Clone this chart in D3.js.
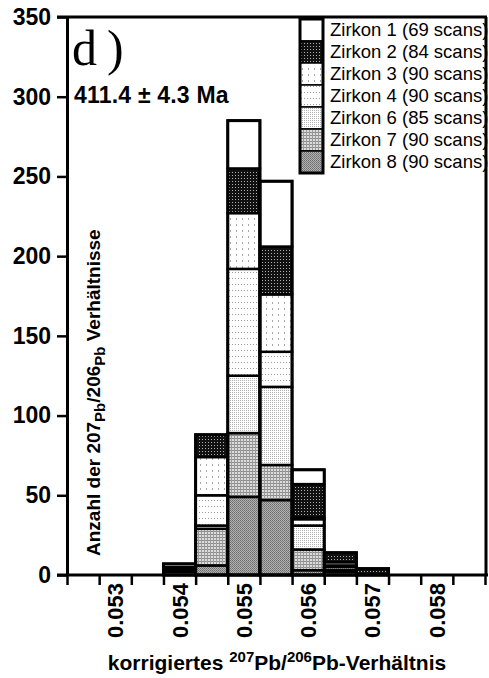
<!DOCTYPE html>
<html>
<head>
<meta charset="utf-8">
<script src="https://cdn.jsdelivr.net/npm/d3@7"></script>
<style>
  html, body { margin: 0; padding: 0; background: #fff; }
  svg { display: block; }
  text { font-family: "Liberation Sans", Arial, sans-serif; }
</style>
</head>
<body>
<svg id="chart" width="489" height="678"></svg>
<script>
// ---- data ----
const binCenters = [0.0540, 0.0545, 0.0550, 0.0555, 0.0560, 0.0565, 0.0570];
const binWidth = 0.0005;
const zirkon1 = [0, 0, 30, 41, 9, 0, 0];
const zirkon2 = [0, 14, 28, 30, 21, 6, 4];
const zirkon3 = [2, 24, 35, 36, 1, 2, 0];
const zirkon4 = [1, 19, 67, 22, 4, 1, 0];
const zirkon6 = [1, 2, 36, 49, 15, 2, 0];
const zirkon7 = [1, 23, 40, 22, 13, 1, 0];
const zirkon8 = [2, 6, 49, 47, 3, 2, 0];
const legendLabels = ["Zirkon 1 (69 scans)", "Zirkon 2 (84 scans)", "Zirkon 3 (90 scans)",
  "Zirkon 4 (90 scans)", "Zirkon 6 (85 scans)", "Zirkon 7 (90 scans)", "Zirkon 8 (90 scans)"];
const yTicks = [0, 50, 100, 150, 200, 250, 300, 350];
const xTickLabels = [0.053, 0.054, 0.055, 0.056, 0.057, 0.058];

const seriesKeys = ["z8", "z7", "z6", "z4", "z3", "z2", "z1"]; // bottom -> top
const seriesData = { z1: zirkon1, z2: zirkon2, z3: zirkon3, z4: zirkon4, z6: zirkon6, z7: zirkon7, z8: zirkon8 };
const legendKeys = ["z1", "z2", "z3", "z4", "z6", "z7", "z8"];

const table = binCenters.map((c, i) => {
  const row = { center: c };
  seriesKeys.forEach(k => row[k] = seriesData[k][i]);
  return row;
});

// ---- svg / scales ----
const svg = d3.select("#chart");
const pLeft = 67, pRight = 485, pTop = 17, pBottom = 575;
const x = d3.scaleLinear().domain([0.05225, 0.05875]).range([pLeft, pRight]);
const y = d3.scaleLinear().domain([0, 350]).range([pBottom, pTop]);

// ---- patterns ----
const defs = svg.append("defs");
function pat(id, w, h, bg, dots) {
  const p = defs.append("pattern").attr("id", id).attr("patternUnits", "userSpaceOnUse")
    .attr("width", w).attr("height", h);
  p.append("rect").attr("width", w).attr("height", h).attr("fill", bg);
  dots.forEach(d => p.append("rect").attr("x", d[0]).attr("y", d[1])
    .attr("width", d[2]).attr("height", d[3]).attr("fill", d[4]).attr("shape-rendering", "crispEdges"));
}
pat("p_z1", 4, 4, "#ffffff", []);
pat("p_z2", 3, 3, "#111111", [[1, 1, 1, 1, "#b0b0b0"]]);
pat("p_z3", 6, 6, "#ffffff", [[2, 2, 1, 2, "#a8a8a8"]]);
pat("p_z4", 3, 6, "#ffffff", [[1, 2, 1, 1, "#9a9a9a"]]);
pat("p_z6", 2, 2, "#ffffff", [[0, 0, 1, 1, "#b4b4b4"]]);
pat("p_z7", 3, 3, "#dcdcdc", [[0, 0, 3, 1, "#8c8c8c"], [0, 0, 1, 3, "#9a9a9a"]]);
pat("p_z8", 2, 2, "#b0b0b0", [[0, 0, 1, 1, "#6e6e6e"], [1, 1, 1, 1, "#7e7e7e"]]);

// ---- stacked bars ----
const stack = d3.stack().keys(seriesKeys)(table);
const barG = svg.append("g");
stack.forEach(layer => {
  barG.selectAll(null).data(layer.filter(d => d[1] - d[0] > 0)).enter().append("rect")
    .attr("x", d => x(d.data.center - binWidth / 2))
    .attr("width", d => x(d.data.center + binWidth / 2) - x(d.data.center - binWidth / 2))
    .attr("y", d => y(d[1]))
    .attr("height", d => y(d[0]) - y(d[1]))
    .attr("fill", "url(#p_" + layer.key + ")")
    .attr("stroke", "#000").attr("stroke-width", 2.5);
});
// outline of each bar
const totalOf = d => seriesKeys.reduce((s, k) => s + d[k], 0);
barG.selectAll(null).data(table).enter().append("rect")
  .attr("x", d => x(d.center - binWidth / 2))
  .attr("width", d => x(d.center + binWidth / 2) - x(d.center - binWidth / 2))
  .attr("y", d => y(totalOf(d)))
  .attr("height", d => pBottom - y(totalOf(d)))
  .attr("fill", "none").attr("stroke", "#000").attr("stroke-width", 3);

// ---- axes ----
const yAxis = d3.axisLeft(y).tickValues(yTicks).tickSize(10).tickSizeOuter(0).tickPadding(6);
const gy = svg.append("g").attr("transform", `translate(${pLeft},0)`).call(yAxis);
gy.select(".domain").attr("stroke-width", 3);
gy.selectAll(".tick line").attr("stroke-width", 2.5);
gy.selectAll(".tick text").attr("font-size", 23).attr("font-weight", "bold")
  .attr("font-family", "Liberation Sans, Arial, sans-serif").attr("fill", "#000");

const edgeTicks = d3.range(0, 14).map(i => 0.05225 + i * binWidth);
const xAxis = d3.axisBottom(x).tickValues(edgeTicks).tickSize(10).tickSizeOuter(0).tickFormat("");
const gx = svg.append("g").attr("transform", `translate(0,${pBottom})`).call(xAxis);
gx.select(".domain").attr("stroke-width", 3).attr("d", `M${pLeft - 10},0H${pRight + 3}`);
gx.selectAll(".tick line").attr("stroke-width", 2.5);

// rotated tick labels at bin centres
svg.append("g").selectAll("text").data(xTickLabels).enter().append("text")
  .attr("transform", d => `translate(${x(d) + 8},583) rotate(-90)`)
  .attr("text-anchor", "end")
  .attr("font-size", 22).attr("font-weight", "bold")
  .text(d => d3.format(".3f")(d));

// frame: top & right
svg.append("line").attr("x1", pLeft - 10).attr("x2", pRight + 2).attr("y1", pTop).attr("y2", pTop)
  .attr("stroke", "#000").attr("stroke-width", 3);
svg.append("line").attr("x1", pRight + 1).attr("x2", pRight + 1).attr("y1", pTop).attr("y2", pBottom)
  .attr("stroke", "#000").attr("stroke-width", 3);

// ---- legend ----
const lg = svg.append("g");
const lx = 300, ly = 19, lw = 23, lh = 22;
legendKeys.forEach((k, i) => {
  lg.append("rect").attr("x", lx).attr("y", ly + i * lh).attr("width", lw).attr("height", lh)
    .attr("fill", "url(#p_" + k + ")").attr("stroke", "#000").attr("stroke-width", 1.5);
  lg.append("text").attr("x", lx + 30).attr("y", ly + i * lh + 17)
    .attr("font-size", 18.5).text(legendLabels[i]);
});
lg.append("rect").attr("x", lx).attr("y", ly).attr("width", lw).attr("height", lh * legendKeys.length)
  .attr("fill", "none").attr("stroke", "#000").attr("stroke-width", 3);

// ---- annotations ----
svg.append("text").attr("x", 72).attr("y", 65)
  .attr("font-size", 50)
  .style("font-family", "'Liberation Serif', 'Times New Roman', serif")
  .text("d\u2009)");
svg.append("text").attr("x", 74).attr("y", 103).attr("font-size", 23).attr("font-weight", "bold")
  .attr("letter-spacing", 0.2)
  .text("411.4 \u00b1 4.3 Ma");

// y-axis title (rotated, inside plot)
const yt = svg.append("text").attr("transform", "translate(100,556) rotate(-90)")
  .attr("font-size", 19).attr("font-weight", "bold");
yt.append("tspan").text("Anzahl der 207");
yt.append("tspan").attr("font-size", 15).attr("dy", 5).text("Pb");
yt.append("tspan").attr("dy", -5).text("/206");
yt.append("tspan").attr("font-size", 15).attr("dy", 5).text("Pb");
yt.append("tspan").attr("dy", -5).text(" Verh\u00e4ltnisse");

// x-axis title
const xt = svg.append("text").attr("x", 277).attr("y", 670).attr("text-anchor", "middle")
  .attr("font-size", 21).attr("font-weight", "bold");
xt.append("tspan").text("korrigiertes ");
xt.append("tspan").attr("font-size", 15).attr("dy", -8).text("207");
xt.append("tspan").attr("dy", 8).text("Pb/");
xt.append("tspan").attr("font-size", 15).attr("dy", -8).text("206");
xt.append("tspan").attr("dy", 8).text("Pb-Verh\u00e4ltnis");
</script>
</body>
</html>
